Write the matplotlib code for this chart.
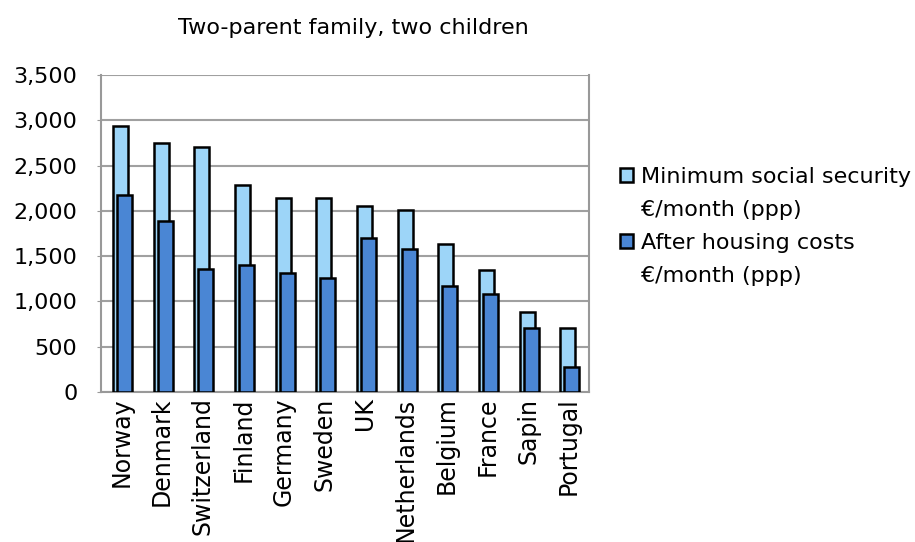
import matplotlib.pyplot as plt
from matplotlib.patches import Rectangle
import numpy as np

countries = ['Norway', 'Denmark', 'Switzerland', 'Finland', 'Germany', 'Sweden',
             'UK', 'Netherlands', 'Belgium', 'France', 'Sapin', 'Portugal']
min_social = [2940, 2750, 2710, 2280, 2145, 2140, 2050, 2005, 1635, 1345, 880, 710]
after_housing = [2170, 1890, 1360, 1400, 1310, 1255, 1695, 1580, 1165, 1080, 710, 280]
yticks = [0, 500, 1000, 1500, 2000, 2500, 3000, 3500]

plt.rcParams['font.family'] = ['DejaVu Sans']

fig = plt.figure(figsize=(9.15, 5.42), dpi=100)
ax = fig.add_axes([101/915, 1 - 392/542, (589-101)/915, (392-75)/542])

x = np.arange(len(countries))
w = 0.37
b1 = ax.bar(x - 0.02, min_social, w, color='#9DD5F8', edgecolor='black', linewidth=1.8, zorder=3)
b2 = ax.bar(x + 0.08, after_housing, w, color='#4A86D4', edgecolor='black', linewidth=1.8, zorder=4)

ax.set_xlim(-0.5, len(countries) - 0.5)
ax.set_ylim(0, 3500)
ax.set_yticks(yticks)
ax.set_yticklabels([f'{v:,}' for v in yticks], fontsize=16)
ax.set_xticks(x)
ax.set_xticklabels(countries, rotation=90, fontsize=17)
ax.tick_params(axis='x', length=0, pad=4)
ax.tick_params(axis='y', length=3, color='#999999', pad=14)
ax.yaxis.grid(True, color='#A0A0A0', linewidth=1.5, zorder=0)
ax.spines['top'].set_visible(False)
for s in ['left', 'bottom', 'right']:
    ax.spines[s].set_color('#999999')
    ax.spines[s].set_linewidth(1.5)

fig.text(353/915, 1 - 28/542, 'Two-parent family, two children', ha='center', va='center', fontsize=16)

blank = Rectangle((0, 0), 1, 1, alpha=0)
ax.legend([b1, blank, b2, blank],
          ['Minimum social security', '€/month (ppp)', 'After housing costs', '€/month (ppp)'],
          loc='upper left', bbox_to_anchor=(609/915, 1 - 156/542), bbox_transform=fig.transFigure,
          frameon=False, fontsize=16, handlelength=0.6, handleheight=0.6, handletextpad=0.35,
          labelspacing=0.58, borderpad=0)

fig.savefig('out.png', dpi=100)
